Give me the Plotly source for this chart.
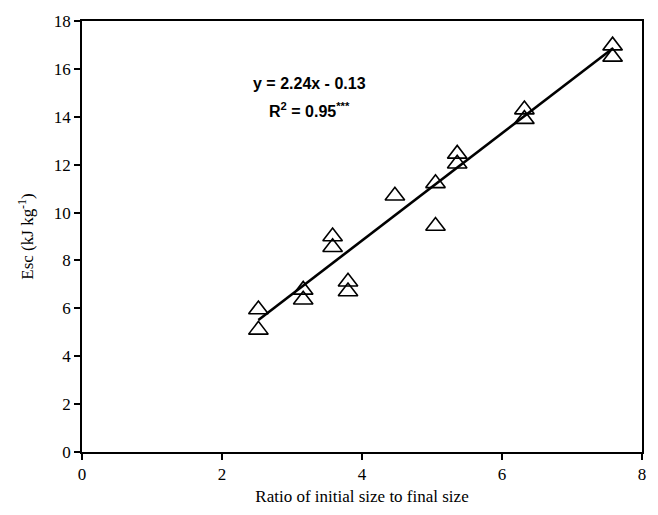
import plotly.graph_objects as go

ratio = [2.52, 2.52, 3.16, 3.16, 3.58, 3.58, 3.80, 3.80, 4.47, 5.05, 5.05,
         5.36, 5.36, 6.32, 6.32, 7.58, 7.58]
esc = [5.95, 5.10, 6.77, 6.36, 9.00, 8.55, 7.11, 6.70, 10.7, 11.22, 9.44,
       12.45, 12.04, 14.30, 13.90, 16.97, 16.50]

slope = 2.24
intercept = -0.13
fit_x = [min(ratio), max(ratio)]
fit_y = [slope * v + intercept for v in fit_x]

fig = go.Figure()
fig.add_trace(go.Scatter(
    x=ratio, y=esc, mode="markers",
    marker=dict(symbol="triangle-up-open", size=17, color="black",
                line=dict(width=1.6, color="black")),
    showlegend=False, cliponaxis=False))
fig.add_trace(go.Scatter(
    x=fit_x, y=fit_y, mode="lines",
    line=dict(color="black", width=2.6), showlegend=False))

fig.add_annotation(x=0.406, y=0.880, xref="paper", yref="paper",
                   text="<b>y = 2.24x - 0.13</b>", showarrow=False,
                   font=dict(family="Liberation Sans, Arial", size=16, color="black"))
fig.add_annotation(x=0.406, y=0.822, xref="paper", yref="paper",
                   text="<b>R<sup>2</sup> = 0.95<sup>***</sup></b>", showarrow=False,
                   font=dict(family="Liberation Sans, Arial", size=16, color="black"))

serif = "Liberation Serif, Times New Roman"
axis_common = dict(showgrid=False, zeroline=False, showline=True, linecolor="black",
                   linewidth=1.5, mirror=True, ticks="outside", ticklen=6,
                   tickwidth=1.5, tickcolor="black",
                   tickfont=dict(family=serif, size=17, color="black"))

fig.update_xaxes(range=[0, 8], dtick=2, **axis_common,
                 title=dict(text="Ratio of initial size to final size", standoff=7,
                            font=dict(family=serif, size=17, color="black")))
fig.update_yaxes(range=[0, 18], dtick=2, **axis_common,
                 title=dict(text="Esc (kJ kg<sup>-1</sup>)", standoff=16,
                            font=dict(family=serif, size=17, color="black")))

fig.update_layout(width=658, height=515, margin=dict(l=82, r=15, t=15, b=60),
                  plot_bgcolor="white", paper_bgcolor="white")

fig.write_html("out.html")
